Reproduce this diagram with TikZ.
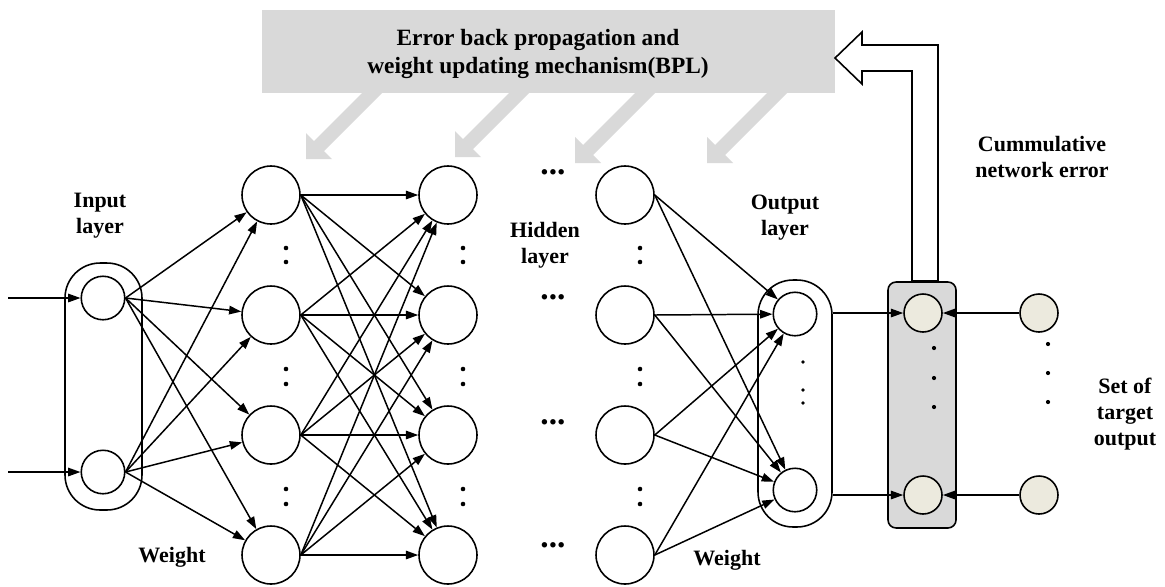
\documentclass[tikz,border=0pt]{standalone}
\usepackage{fontspec}
\setmainfont{Liberation Serif}
\usetikzlibrary{arrows.meta,calc}
\definecolor{boxgray}{HTML}{D9D9D9}
\definecolor{nodecream}{RGB}{236,234,222}
\begin{document}
\begin{tikzpicture}[x=0.02cm,y=-0.02cm,
  neuron/.style={circle,draw,line width=0.9pt,fill=white,minimum size=1.16cm,inner sep=0pt},
  ionode/.style={circle,draw,line width=0.9pt,fill=white,minimum size=0.87cm,inner sep=0pt},
  errnode/.style={circle,draw,line width=0.9pt,fill=nodecream,minimum size=0.76cm,inner sep=0pt},
  conn/.style={line width=0.85pt,-{Triangle[length=7pt,width=4.8pt]}},
  lbl/.style={font=\bfseries\fontsize{12.5}{14.8}\selectfont,align=center,inner sep=0pt},
  ellip/.style={font=\bfseries\fontsize{19}{19}\selectfont,inner sep=0pt},
  layerbox/.style={draw,line width=0.9pt,rounded corners=0.7cm,inner sep=0pt}
]
\useasboundingbox (0,0) rectangle (1165,586);

% error back-propagation box and its arrows
\fill[boxgray] (262,10) rectangle (835,93);
\foreach \tx/\ty in {306/159, 455/157, 575/163, 707/163}
  \fill[boxgray] (\tx,\ty) -- ++(26,0) -- ++(-8,-8) -- ++(90,-90) -- ++(-10,-10)
     -- ++(-90,90) -- ++(-8,-8) -- cycle;
\node[font=\bfseries\fontsize{13.3}{15.9}\selectfont,align=center,inner sep=0pt]
  (title) at (538,54) {Error back propagation and\\weight updating mechanism(BPL)};

% hollow feedback arrow
\draw[line width=0.9pt,fill=white] (835,58) -- (862,32) -- (862,45) -- (938,45)
  -- (938,281) -- (912,281) -- (912,71) -- (862,71) -- (862,84) -- cycle;

% layer boxes
\node[layerbox,minimum width=1.54cm,minimum height=4.94cm] (inbox) at (103.5,386.5) {};
\node[layerbox,minimum width=1.48cm,minimum height=4.94cm] (outbox) at (795,403.5) {};
\node[draw,line width=0.9pt,fill=boxgray,rounded corners=0.16cm,inner sep=0pt,
  minimum width=1.36cm,minimum height=4.92cm] (errbox) at (922,405) {};

% nodes
\node[ionode] (i1) at (103,298) {};
\node[ionode] (i2) at (103,472) {};
\foreach \c/\x in {a/271,b/448,c/625}
  \foreach \r/\y in {1/195,2/315,3/435,4/555}
    \node[neuron] (\c\r) at (\x,\y) {};
\node[ionode] (o1) at (795,314) {};
\node[ionode] (o2) at (795,490) {};
\node[errnode] (e1) at (923,313) {};
\node[errnode] (e2) at (923,495) {};
\node[errnode] (t1) at (1039,313) {};
\node[errnode] (t2) at (1039,495) {};

% inputs
\coordinate (in1) at (8,298);
\coordinate (in2) at (8,472);
\draw[conn] (in1) -- (i1);
\draw[conn] (in2) -- (i2);

% connections
\foreach \i in {i1,i2}
  \foreach \r in {1,...,4}
    \draw[conn] (\i.east) -- (a\r);
\foreach \s in {1,...,4}
  \foreach \r in {1,...,4}
    \draw[conn] (a\s.east) -- (b\r);
\foreach \s in {1,...,4}
  \foreach \o in {o1,o2}
    \draw[conn] (c\s.east) -- (\o);
\draw[conn] (outbox.east |- e1) -- (e1);
\draw[conn] (outbox.east |- e2) -- (e2);
\draw[conn] (t1) -- (e1);
\draw[conn] (t2) -- (e2);

% vertical dots
\foreach \x in {286,463,640}
  \foreach \y in {248,262,369,384,489,504}
    \fill (\x,\y) circle[radius=1.3pt];
\foreach \y in {362,390,403} \fill (803,\y) circle[radius=1.1pt];
\foreach \y in {348,378,407} \fill (934,\y) circle[radius=1.2pt];
\foreach \y in {344,373,402} \fill (1048,\y) circle[radius=1.2pt];

% horizontal ellipses in hidden layer
\node[ellip] (hd1) at (553,172) {...};
\node[ellip] (hd2) at (553,297) {...};
\node[ellip] (hd3) at (553,422) {...};
\node[ellip] (hd4) at (553,545) {...};

% labels
\node[lbl] (inlabel) at (100,216) {Input\\layer};
\node[lbl] (hidlabel) at (545,245) {Hidden\\layer};
\node[lbl] (outlabel) at (785,218) {Output\\layer};
\node[lbl] (cumlabel) at (1042,157) {Cummulative\\network error};
\node[lbl] (setlabel) at (1125,414) {Set of\\target\\output};
\node[lbl] (w1) at (172,557) {Weight};
\node[lbl] (w2) at (727,560) {Weight};
\end{tikzpicture}
\end{document}
